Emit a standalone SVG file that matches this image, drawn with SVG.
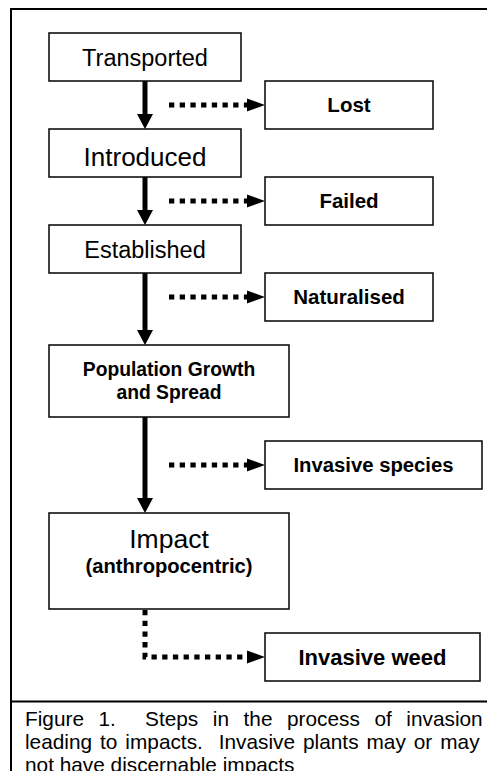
<svg xmlns="http://www.w3.org/2000/svg" width="487" height="771" viewBox="0 0 487 771">
<style>
  .box { fill: #fff; stroke: #111; stroke-width: 1.6; }
  .t { font-family: "Liberation Sans", Arial, sans-serif; fill: #000; text-anchor: middle; }
  .b { font-weight: bold; }
  .solid { stroke: #000; stroke-width: 5; fill: none; }
  .dot { stroke: #000; stroke-width: 5; fill: none; stroke-dasharray: 5.3 5.4; }
  .cap { font-family: "Liberation Sans", Arial, sans-serif; font-size: 20.8px; fill: #000; white-space: pre; }
</style>
<defs>
  <marker id="ah" markerUnits="userSpaceOnUse" markerWidth="16" markerHeight="17" refX="0" refY="8" orient="auto" overflow="visible">
    <path d="M0,0 L15,8 L0,16 Z" fill="#000"/>
  </marker>
  <marker id="dh" markerUnits="userSpaceOnUse" markerWidth="18" markerHeight="14" refX="0" refY="6.5" orient="auto" overflow="visible">
    <path d="M0,0 L18,6.5 L0,13 Z" fill="#000"/>
  </marker>
</defs>
<rect width="487" height="771" fill="#fff"/>
<g id="frame">
  <path d="M11,771 V9 H490" fill="none" stroke="#000" stroke-width="2"/>
  <line x1="11" y1="701.5" x2="490" y2="701.5" stroke="#000" stroke-width="2"/>
</g>
<g id="connectors">
  <line class="solid" x1="145" y1="81" x2="145" y2="114" marker-end="url(#ah)"/>
  <line class="solid" x1="145" y1="177" x2="145" y2="210" marker-end="url(#ah)"/>
  <line class="solid" x1="145" y1="273" x2="145" y2="330" marker-end="url(#ah)"/>
  <line class="solid" x1="145" y1="417" x2="145" y2="498" marker-end="url(#ah)"/>
  <path class="dot" d="M169,105 H247" marker-end="url(#dh)"/>
  <path class="dot" d="M169,201 H247" marker-end="url(#dh)"/>
  <path class="dot" d="M169,297 H247" marker-end="url(#dh)"/>
  <path class="dot" d="M169,465 H247" marker-end="url(#dh)"/>
  <path class="dot" d="M145,610 V657 H247" marker-end="url(#dh)"/>
</g>
<g id="transported">
  <rect class="box" x="49" y="33" width="192" height="48"/>
  <text class="t" x="145" y="66" font-size="23.5">Transported</text>
</g>
<g id="lost">
  <rect class="box" x="265" y="81" width="168" height="48"/>
  <text class="t b" x="349" y="112" font-size="20.5">Lost</text>
</g>
<g id="introduced">
  <rect class="box" x="49" y="129" width="192" height="48"/>
  <text class="t" x="145" y="166" font-size="26">Introduced</text>
</g>
<g id="failed">
  <rect class="box" x="265" y="177" width="168" height="48"/>
  <text class="t b" x="349" y="208" font-size="20.5">Failed</text>
</g>
<g id="established">
  <rect class="box" x="49" y="225" width="192" height="48"/>
  <text class="t" x="145" y="258" font-size="23.5">Established</text>
</g>
<g id="naturalised">
  <rect class="box" x="265" y="273" width="168" height="48"/>
  <text class="t b" x="349" y="304" font-size="20.5">Naturalised</text>
</g>
<g id="population">
  <rect class="box" x="49" y="345" width="240" height="72"/>
  <text class="t b" x="169" y="376" font-size="19.3">Population Growth</text>
  <text class="t b" x="169" y="399" font-size="19.3">and Spread</text>
</g>
<g id="invasive-species">
  <rect class="box" x="265" y="441" width="217" height="48"/>
  <text class="t b" x="373.5" y="472" font-size="20.3">Invasive species</text>
</g>
<g id="impact">
  <rect class="box" x="49" y="513" width="240" height="96"/>
  <text class="t" x="169" y="548" font-size="26.5">Impact</text>
  <text class="t b" x="169" y="573" font-size="20.2">(anthropocentric)</text>
</g>
<g id="invasive-weed">
  <rect class="box" x="265" y="633" width="215" height="48"/>
  <text class="t b" x="372.5" y="665" font-size="22">Invasive weed</text>
</g>
<g id="caption">
  <text class="cap" x="25" y="726" word-spacing="8.8" xml:space="preserve">Figure 1.  Steps in the process of invasion</text>
  <text class="cap" x="25" y="749" word-spacing="2.2" xml:space="preserve">leading to impacts.  Invasive plants may or may</text>
  <text class="cap" x="25" y="772">not have discernable impacts</text>
</g>
</svg>
